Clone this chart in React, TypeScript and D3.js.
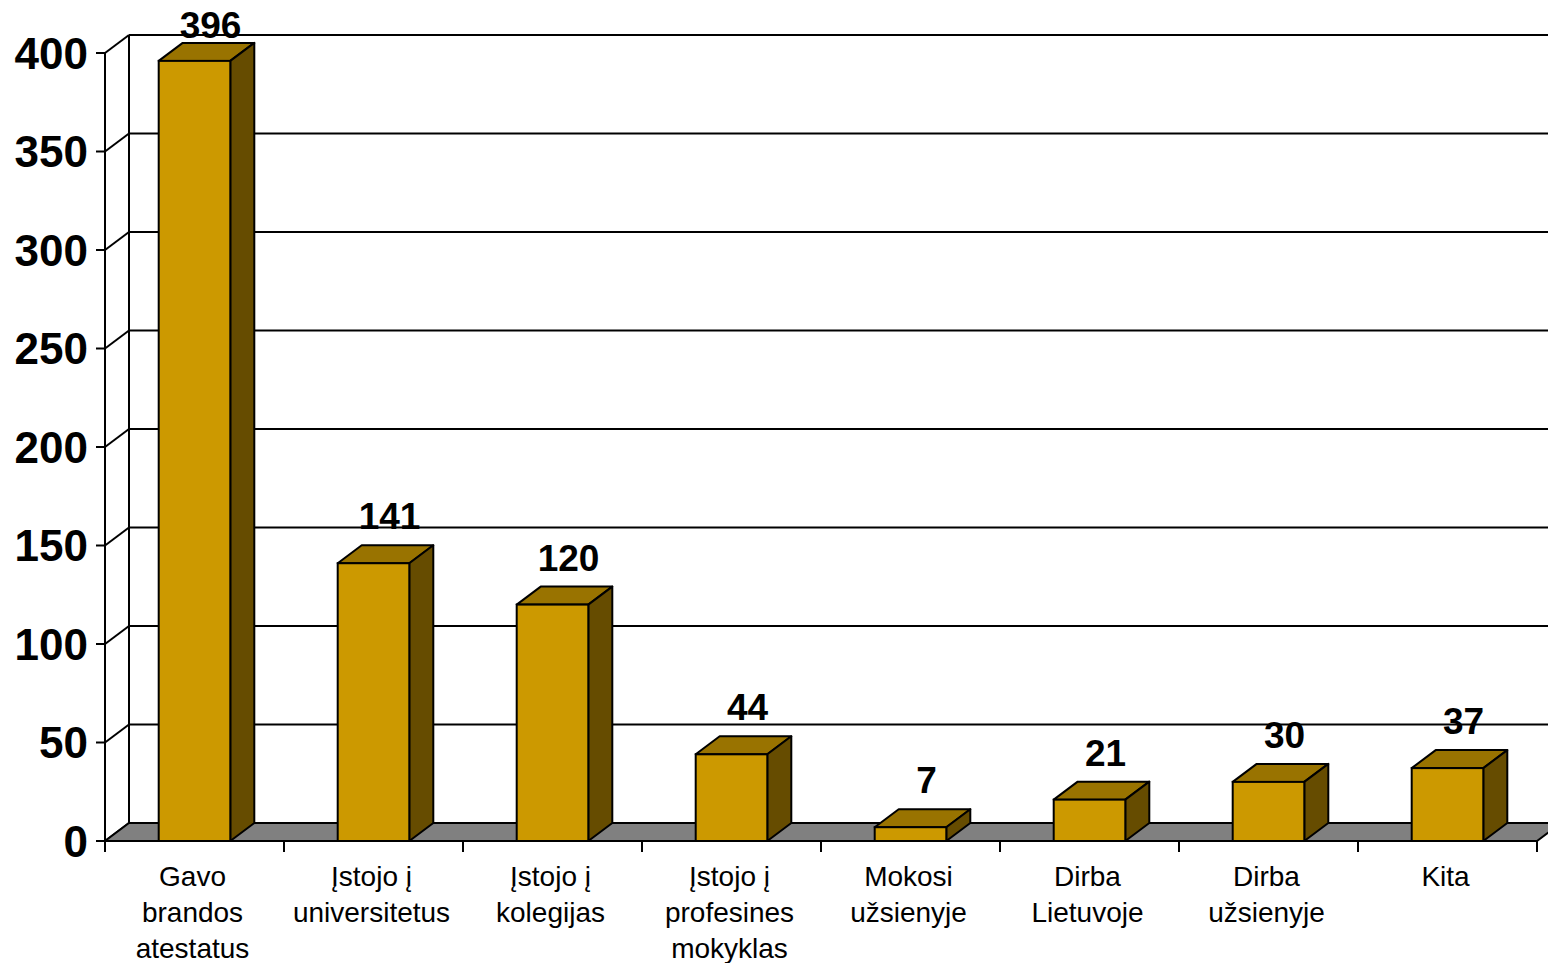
import React, { useEffect, useRef } from 'react';
import * as d3 from 'd3';

const categories = [
  'Gavo brandos atestatus',
  'Įstojo į universitetus',
  'Įstojo į kolegijas',
  'Įstojo į profesines mokyklas',
  'Mokosi užsienyje',
  'Dirba Lietuvoje',
  'Dirba užsienyje',
  'Kita',
];
const categoryLines = [
  ['Gavo', 'brandos', 'atestatus'],
  ['Įstojo į', 'universitetus'],
  ['Įstojo į', 'kolegijas'],
  ['Įstojo į', 'profesines', 'mokyklas'],
  ['Mokosi', 'užsienyje'],
  ['Dirba', 'Lietuvoje'],
  ['Dirba', 'užsienyje'],
  ['Kita'],
];
const values = [396, 141, 120, 44, 7, 21, 30, 37];
const yTicks = [0, 50, 100, 150, 200, 250, 300, 350, 400];

const W = 1548;
const H = 963;
const FONT = '"Liberation Sans", Arial, sans-serif';

const App: React.FC = () => {
  const ref = useRef<SVGSVGElement>(null);

  useEffect(() => {
    document.body.style.margin = '0';
    if (!ref.current) return;
    const svg = d3.select(ref.current);
    svg.selectAll('*').remove();

    const left = 105;
    const right = 1537;
    const base = 841;
    const top = 53;
    const dx = 24;
    const dy = -18;

    const x = d3.scaleBand<string>().domain(categories).range([left, right]).padding(0);
    const y = d3.scaleLinear().domain([0, 400]).range([base, top]);
    const barW = x.bandwidth() * 0.4;

    // back wall gridlines
    svg.append('g')
      .selectAll('line')
      .data(yTicks)
      .enter().append('line')
      .attr('x1', left + dx)
      .attr('x2', W)
      .attr('y1', d => y(d) + dy)
      .attr('y2', d => y(d) + dy)
      .attr('stroke', '#000')
      .attr('stroke-width', 2);

    // side wall diagonals
    svg.append('g')
      .selectAll('line')
      .data(yTicks)
      .enter().append('line')
      .attr('x1', left)
      .attr('x2', left + dx)
      .attr('y1', d => y(d))
      .attr('y2', d => y(d) + dy)
      .attr('stroke', '#000')
      .attr('stroke-width', 2);

    // back wall left edge
    svg.append('line')
      .attr('x1', left + dx).attr('x2', left + dx)
      .attr('y1', y(400) + dy).attr('y2', y(0) + dy)
      .attr('stroke', '#000').attr('stroke-width', 2);

    // floor
    svg.append('path')
      .attr('d', `M${left},${base} L${left + dx},${base + dy} L${right + dx},${base + dy} L${right},${base} Z`)
      .attr('fill', '#808080')
      .attr('stroke', '#000')
      .attr('stroke-width', 2);

    // bars
    const bars = svg.append('g')
      .selectAll('g')
      .data(values)
      .enter().append('g');

    const bx = (i: number) => (x(categories[i]) || 0) + (x.bandwidth() - barW) / 2;

    bars.append('path')
      .attr('d', (d, i) => {
        const x0 = bx(i);
        const yt = y(d);
        return `M${x0},${yt} L${x0 + dx},${yt + dy} L${x0 + barW + dx},${yt + dy} L${x0 + barW},${yt} Z`;
      })
      .attr('fill', '#997300')
      .attr('stroke', '#000')
      .attr('stroke-width', 2)
      .attr('stroke-linejoin', 'round');

    bars.append('path')
      .attr('d', (d, i) => {
        const x1 = bx(i) + barW;
        const yt = y(d);
        return `M${x1},${yt} L${x1 + dx},${yt + dy} L${x1 + dx},${base + dy} L${x1},${base} Z`;
      })
      .attr('fill', '#664C00')
      .attr('stroke', '#000')
      .attr('stroke-width', 2)
      .attr('stroke-linejoin', 'round');

    bars.append('rect')
      .attr('x', (d, i) => bx(i))
      .attr('y', d => y(d))
      .attr('width', barW)
      .attr('height', d => base - y(d))
      .attr('fill', '#CC9900')
      .attr('stroke', '#000')
      .attr('stroke-width', 2);

    // value labels
    svg.append('g')
      .selectAll('text')
      .data(values)
      .enter().append('text')
      .attr('x', (d, i) => bx(i) + barW / 2 + 16)
      .attr('y', d => Math.max(y(d) + dy - 16, 38))
      .attr('text-anchor', 'middle')
      .style('font-family', FONT)
      .style('font-size', '37px')
      .style('font-weight', 'bold')
      .text(d => d);

    // y axis
    svg.append('line')
      .attr('x1', left).attr('x2', left)
      .attr('y1', top).attr('y2', base)
      .attr('stroke', '#000').attr('stroke-width', 2);

    const yAxis = svg.append('g');
    yAxis.selectAll('line')
      .data(yTicks)
      .enter().append('line')
      .attr('x1', left - 9).attr('x2', left)
      .attr('y1', d => y(d)).attr('y2', d => y(d))
      .attr('stroke', '#000').attr('stroke-width', 2);
    yAxis.selectAll('text')
      .data(yTicks)
      .enter().append('text')
      .attr('x', 88)
      .attr('y', d => y(d))
      .attr('dy', '0.36em')
      .attr('text-anchor', 'end')
      .style('font-family', FONT)
      .style('font-size', '44px')
      .style('font-weight', 'bold')
      .text(d => d);

    // x axis
    svg.append('line')
      .attr('x1', left).attr('x2', right)
      .attr('y1', base).attr('y2', base)
      .attr('stroke', '#000').attr('stroke-width', 2);

    const tickXs = categories.map(c => x(c) || 0).concat([right]);
    svg.append('g')
      .selectAll('line')
      .data(tickXs)
      .enter().append('line')
      .attr('x1', d => d).attr('x2', d => d)
      .attr('y1', base).attr('y2', base + 11)
      .attr('stroke', '#000').attr('stroke-width', 2);

    const labels = svg.append('g')
      .selectAll('text')
      .data(categories)
      .enter().append('text')
      .attr('text-anchor', 'middle')
      .style('font-family', FONT)
      .style('font-size', '28px');
    labels.each(function (d, i) {
      const t = d3.select(this);
      categoryLines[i].forEach((line, j) => {
        t.append('tspan')
          .attr('x', (x(d) || 0) + x.bandwidth() / 2 - 2)
          .attr('y', 886 + j * 36)
          .text(line);
      });
    });
  }, []);

  return (
    <svg
      ref={ref}
      width={W}
      height={H}
      style={{ display: 'block', position: 'absolute', left: 0, top: 0, background: '#fff' }}
    />
  );
};

export default App;
